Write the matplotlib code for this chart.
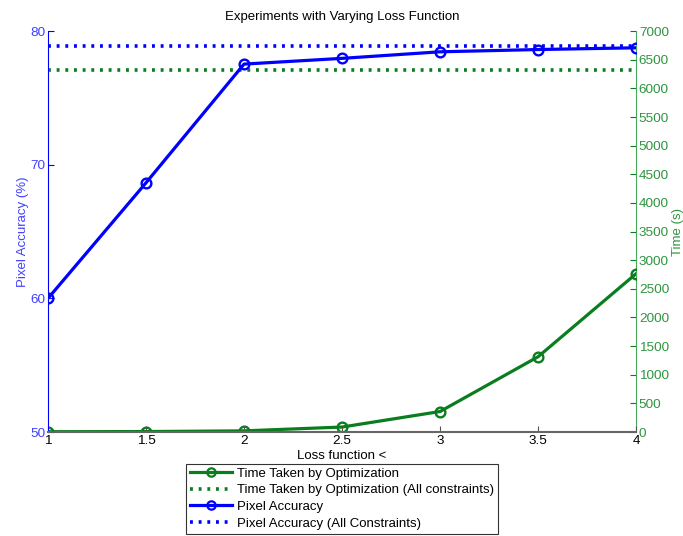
import matplotlib
matplotlib.use("Agg")
import matplotlib.pyplot as plt
from matplotlib.lines import Line2D

plt.rcParams['font.family'] = ['Liberation Sans', 'DejaVu Sans']

x = [1, 1.5, 2, 2.5, 3, 3.5, 4]
pixel_acc = [60.0, 68.65, 77.53, 77.96, 78.45, 78.62, 78.75]
time_taken = [5, 8, 20, 87, 358, 1314, 2764]
pixel_acc_all = 78.9
time_all = 6315

xticks = [1, 1.5, 2, 2.5, 3, 3.5, 4]
xticklabels = ['1', '1.5', '2', '2.5', '3', '3.5', '4']
left_ticks = [50, 60, 70, 80]
right_ticks = list(range(0, 7001, 500))

blue = '#0000ff'
blue_lbl = '#4040ff'
green = '#0a7d1e'
green_lbl = '#2e9440'
dot = (0, (0.8, 1.6))

fig = plt.figure(figsize=(6.83, 5.36), dpi=100)
ax = fig.add_axes([0.0703, 0.194, 0.861, 0.748])
ax2 = ax.twinx()

ax.set_xlim(1, 4)
ax.set_ylim(50, 80)
ax2.set_ylim(0, 7000)

ax2.plot(x, time_taken, color=green, lw=2.3, marker='o', ms=7, mfc='none', mew=1.7, zorder=3)
ax2.axhline(time_all, color=green, lw=2.6, ls=dot)
ax.plot(x, pixel_acc, color=blue, lw=2.3, marker='o', ms=7, mfc='none', mew=1.7, zorder=3)
ax.axhline(pixel_acc_all, color=blue, lw=2.6, ls=dot)
ax.set_zorder(ax2.get_zorder() + 1)
ax.patch.set_visible(False)

for a in (ax, ax2):
    a.spines['top'].set_visible(False)
ax.spines['right'].set_visible(False)
ax2.spines['left'].set_visible(False)
ax2.spines['bottom'].set_visible(False)
ax.spines['left'].set_color(blue)
ax.spines['bottom'].set_color('#666666')
ax.spines['bottom'].set_linewidth(1.5)
ax2.spines['right'].set_color('#4aa85a')

ax.set_xticks(xticks)
ax.set_xticklabels(xticklabels)
ax.set_yticks(left_ticks)
ax2.set_yticks(right_ticks)

fs = 9.7
ax.tick_params(axis='x', direction='in', length=4, colors='#555555', labelcolor='black', labelsize=fs, pad=2)
ax.tick_params(axis='y', direction='in', length=4, colors=blue, labelcolor=blue_lbl, labelsize=fs, pad=2)
ax2.tick_params(axis='y', direction='in', length=4, colors=green, labelcolor=green_lbl, labelsize=fs, pad=2)

ax.set_title('Experiments with Varying Loss Function', fontsize=9.5, pad=8)
ax.set_xlabel('Loss function <', fontsize=9.5, labelpad=2)
ax.set_ylabel('Pixel Accuracy (%)', fontsize=9.5, color=blue_lbl, labelpad=1)
ax2.set_ylabel('Time (s)', fontsize=9.5, color=green_lbl, labelpad=2)

handles = [
    Line2D([], [], color=green, lw=2.3, marker='o', ms=6, mfc='none', mew=1.6),
    Line2D([], [], color=green, lw=2.6, ls=dot),
    Line2D([], [], color=blue, lw=2.3, marker='o', ms=6, mfc='none', mew=1.6),
    Line2D([], [], color=blue, lw=2.6, ls=dot),
]
labels = ['Time Taken by Optimization', 'Time Taken by Optimization (All constraints)',
          'Pixel Accuracy', 'Pixel Accuracy (All Constraints)']
leg = fig.legend(handles, labels, loc='upper center', bbox_to_anchor=(0.501, 0.135),
                 fontsize=9.5, frameon=True, fancybox=False, edgecolor='black',
                 borderpad=0.3, labelspacing=0.33, handlelength=3.2, handletextpad=0.4,
                 borderaxespad=0)
leg.get_frame().set_linewidth(0.8)

fig.savefig('out.png', dpi=100)
